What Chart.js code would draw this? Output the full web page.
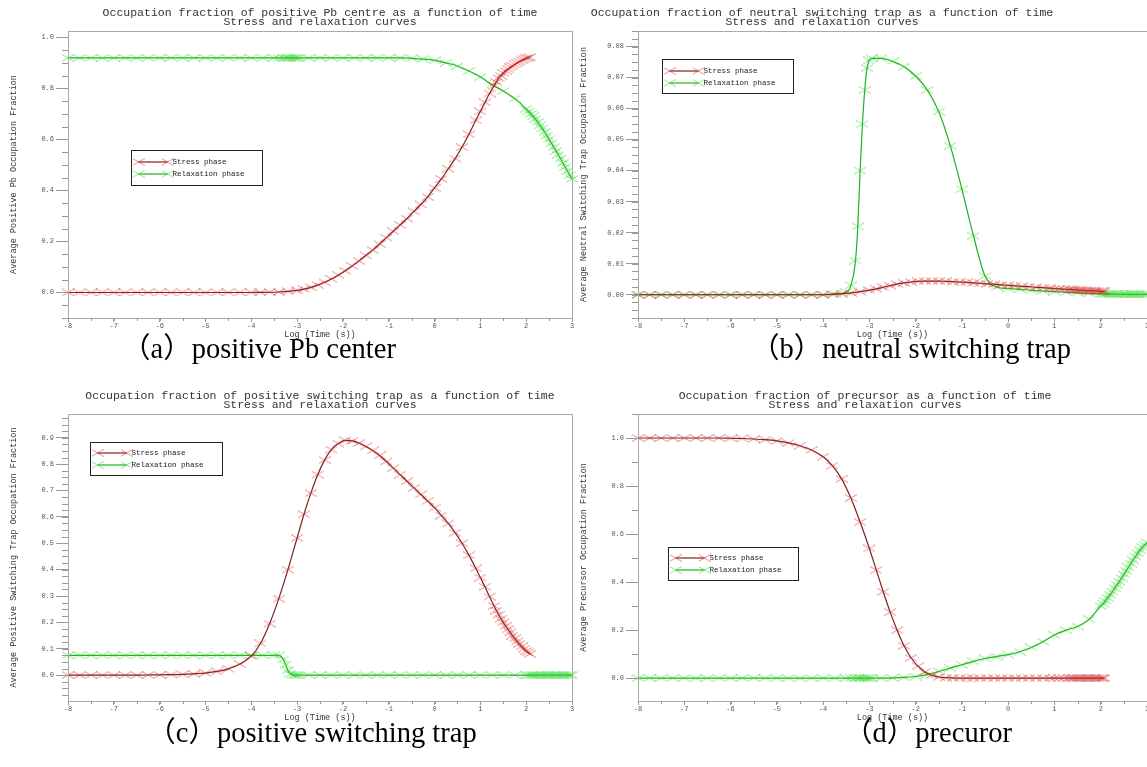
<!DOCTYPE html>
<html>
<head>
<meta charset="utf-8">
<title>Occupation fraction curves</title>
<script src="https://cdn.jsdelivr.net/npm/chart.js@4.4.0/dist/chart.umd.min.js"></script>
<style>
  html, body { margin: 0; padding: 0; background: #fff; }
  body { width: 1147px; height: 767px; position: relative; overflow: hidden; }
  canvas { position: absolute; }
  .caption { position: absolute; transform: translate(-50%, -50%); white-space: nowrap;
    font-family: "Liberation Serif", "Times New Roman", "Noto Sans CJK SC", serif; font-size: 28.5px; color: #000; }
</style>
</head>
<body>
<canvas id="chartA" width="590" height="342" style="left:0;top:0"></canvas>
<canvas id="chartB" width="600" height="342" style="left:570px;top:0"></canvas>
<canvas id="chartC" width="590" height="342" style="left:0;top:383px"></canvas>
<canvas id="chartD" width="600" height="342" style="left:570px;top:383px"></canvas>
<div class="caption" style="left:259px;top:345px">（a）positive Pb center</div>
<div class="caption" style="left:911px;top:345px">（b）neutral switching trap</div>
<div class="caption" style="left:312px;top:729px">（c）positive switching trap</div>
<div class="caption" style="left:928px;top:729px">（d）precuror</div>
<script>
// log10 time grids (s)
const stressX = [-8, -7.75, -7.5, -7.25, -7, -6.75, -6.5, -6.25, -6, -5.75, -5.5, -5.25, -5, -4.75, -4.5, -4.25, -4,
  -3.8, -3.6, -3.4, -3.2, -3.0,
  -2.85, -2.7, -2.55, -2.4, -2.25, -2.1, -1.95, -1.8, -1.65, -1.5, -1.35, -1.2, -1.05, -0.9, -0.75, -0.6, -0.45, -0.3, -0.15, 0,
  0.15, 0.3, 0.45, 0.6, 0.75, 0.9, 1.0, 1.1, 1.2, 1.3,
  1.35, 1.4, 1.45, 1.5, 1.55, 1.6, 1.65, 1.7, 1.75, 1.8, 1.85, 1.9, 1.95, 2.0, 2.04, 2.08];
const relaxX = [-8, -7.75, -7.5, -7.25, -7, -6.75, -6.5, -6.25, -6, -5.75, -5.5, -5.25, -5, -4.75, -4.5, -4.25, -4,
  -3.75, -3.5, -3.4, -3.3,
  -3.25, -3.2, -3.15, -3.1, -3.05, -3.0, -2.95,
  -2.75, -2.5, -2.25, -2, -1.75, -1.5, -1.25, -1, -0.75, -0.5, -0.25, 0, 0.25, 0.5, 0.75, 1, 1.25, 1.5, 1.75, 2,
  2.05, 2.1, 2.15, 2.2, 2.25, 2.3, 2.35, 2.4, 2.45, 2.5, 2.55, 2.6, 2.65, 2.7, 2.75, 2.8, 2.85, 2.9, 2.95, 3.0];

const seriesNames = ['Stress phase', 'Relaxation phase'];

// (a) positive Pb centre
const pbStress = [0, 0, 0, 0, 0, 0, 0, 0, 0, 0, 0, 0, 0, 0, 0, 0, 0,
  0.0005, 0.001, 0.002, 0.004, 0.008,
  0.013, 0.02, 0.029, 0.04, 0.053, 0.068, 0.085, 0.104, 0.124, 0.145, 0.166, 0.19, 0.215, 0.24, 0.265, 0.29, 0.318, 0.345, 0.375, 0.41,
  0.445, 0.485, 0.525, 0.57, 0.62, 0.675, 0.71, 0.745, 0.78, 0.81,
  0.825, 0.84, 0.85, 0.86, 0.868, 0.875, 0.882, 0.888, 0.894, 0.9, 0.905, 0.91, 0.914, 0.918, 0.92, 0.922];
const pbRelax = [0.92, 0.92, 0.92, 0.92, 0.92, 0.92, 0.92, 0.92, 0.92, 0.92, 0.92, 0.92, 0.92, 0.92, 0.92, 0.92, 0.92,
  0.92, 0.92, 0.92, 0.92,
  0.92, 0.92, 0.92, 0.92, 0.92, 0.92, 0.92,
  0.92, 0.92, 0.92, 0.92, 0.92, 0.92, 0.92, 0.92, 0.92, 0.918, 0.915, 0.91, 0.9, 0.888, 0.868, 0.845, 0.815, 0.79, 0.76, 0.72,
  0.71, 0.7, 0.69, 0.68, 0.668, 0.655, 0.643, 0.63, 0.615, 0.6, 0.585, 0.57, 0.555, 0.54, 0.525, 0.508, 0.492, 0.476, 0.46, 0.445];

// (b) neutral switching trap
const neutralStress = [0, 0, 0, 0, 0, 0, 0, 0, 0, 0, 0, 0, 0, 0, 0, 0, 0,
  0.0001, 0.0003, 0.0006, 0.001, 0.0015,
  0.0019, 0.0024, 0.0029, 0.0034, 0.0038, 0.0041, 0.0043, 0.0044, 0.0044, 0.0044, 0.0043, 0.0042, 0.0041, 0.004, 0.0038, 0.0037, 0.0035, 0.0034, 0.0032, 0.003,
  0.0029, 0.0027, 0.0026, 0.0024, 0.0023, 0.0021, 0.002, 0.0019, 0.0018, 0.0017,
  0.0017, 0.0016, 0.0016, 0.0015, 0.0015, 0.0014, 0.0014, 0.0013, 0.0013, 0.0013, 0.0012, 0.0012, 0.0012, 0.0011, 0.0011, 0.0011];
const neutralRelax = [0, 0, 0, 0, 0, 0, 0, 0, 0, 0, 0, 0, 0, 0, 0, 0, 0,
  0.0003, 0.0008, 0.003, 0.011,
  0.022, 0.04, 0.055, 0.066, 0.073, 0.0755, 0.0762,
  0.0762, 0.0752, 0.0735, 0.0705, 0.066, 0.059, 0.048, 0.034, 0.019, 0.006, 0.0025, 0.002, 0.0017, 0.0014, 0.0012, 0.001, 0.0008, 0.0006, 0.0004, 0.0003,
  0.0002, 0.0002, 0.0002, 0.0002, 0.0002, 0.0002, 0.0001, 0.0001, 0.0001, 0.0001, 0.0001, 0.0001, 0.0001, 0.0001, 0.0001, 0.0001, 0.0001, 0.0001, 0.0001, 0.0001];

// (c) positive switching trap
const positiveStress = [0, 0, 0, 0, 0, 0, 0.0003, 0.0006, 0.001, 0.002, 0.003, 0.005, 0.008, 0.014, 0.024, 0.042, 0.072,
  0.12, 0.195, 0.29, 0.4, 0.52,
  0.61, 0.69, 0.76, 0.815, 0.855, 0.878, 0.89, 0.888, 0.88, 0.867, 0.852, 0.833, 0.81, 0.785, 0.76, 0.735, 0.71, 0.685, 0.66, 0.635,
  0.605, 0.575, 0.54, 0.5, 0.455, 0.405, 0.37, 0.335, 0.298, 0.262,
  0.245, 0.229, 0.214, 0.2, 0.187, 0.174, 0.162, 0.15, 0.139, 0.128, 0.118, 0.109, 0.1, 0.092, 0.086, 0.08];
const positiveRelax = [0.075, 0.075, 0.075, 0.075, 0.075, 0.075, 0.075, 0.075, 0.075, 0.075, 0.075, 0.075, 0.075, 0.075, 0.075, 0.075, 0.075,
  0.075, 0.075, 0.075, 0.06,
  0.04, 0.018, 0.005, 0.001, 0, 0, 0,
  0, 0, 0, 0, 0, 0, 0, 0, 0, 0, 0, 0, 0, 0, 0, 0, 0, 0, 0, 0,
  0, 0, 0, 0, 0, 0, 0, 0, 0, 0, 0, 0, 0, 0, 0, 0, 0, 0, 0, 0];

// (d) precursor
const precursorStress = [1, 1, 1, 1, 1, 1, 1, 1, 0.999, 0.998, 0.996, 0.993, 0.988, 0.98, 0.968, 0.95, 0.922,
  0.885, 0.83, 0.75, 0.65, 0.54,
  0.45, 0.36, 0.275, 0.2, 0.135, 0.085, 0.05, 0.026, 0.012, 0.005, 0.002, 0.001, 0, 0, 0, 0, 0, 0, 0, 0,
  0, 0, 0, 0, 0, 0, 0, 0, 0, 0,
  0, 0, 0, 0, 0, 0, 0, 0, 0, 0, 0, 0, 0, 0, 0, 0];
const precursorRelax = [0, 0, 0, 0, 0, 0, 0, 0, 0, 0, 0, 0, 0, 0, 0, 0, 0,
  0, 0, 0, 0,
  0, 0, 0, 0, 0, 0, 0,
  0, 0.001, 0.003, 0.007, 0.015, 0.028, 0.042, 0.056, 0.07, 0.082, 0.09, 0.098, 0.11, 0.128, 0.152, 0.18, 0.2, 0.215, 0.245, 0.3,
  0.31, 0.322, 0.334, 0.347, 0.36, 0.374, 0.388, 0.402, 0.417, 0.432, 0.447, 0.462, 0.477, 0.492, 0.506, 0.52, 0.533, 0.545, 0.555, 0.565];

// wide "x" marker like the original plot
function makeMarker(color) {
  const c = document.createElement('canvas');
  c.width = 12; c.height = 8;
  const g = c.getContext('2d');
  g.strokeStyle = color; g.lineWidth = 1;
  g.beginPath();
  g.moveTo(0, 0.5); g.lineTo(12, 7.5);
  g.moveTo(0, 7.5); g.lineTo(12, 0.5);
  g.stroke();
  return c;
}
const stressMark = makeMarker('rgba(215,45,45,0.55)');
const relaxMark = makeMarker('rgba(40,215,40,0.55)');

function series(label, xs, ys, line, mark) {
  return {
    label: label,
    data: xs.map((x, i) => ({ x: x, y: ys[i] })),
    borderColor: line, borderWidth: 1.2, fill: false,
    pointStyle: mark, pointRadius: 6, pointHoverRadius: 6,
    cubicInterpolationMode: 'monotone', clip: 8
  };
}

// frame, minor ticks, two-line title and boxed legend
const panelDecor = {
  id: 'panelDecor',
  afterDraw(chart, args, opts) {
    const ctx = chart.ctx, a = chart.chartArea;
    const xs = chart.scales.x, ys = chart.scales.y;
    ctx.save();
    ctx.strokeStyle = '#aaa'; ctx.lineWidth = 1;
    ctx.strokeRect(Math.round(a.left) + 0.5, Math.round(a.top) + 0.5, Math.round(a.right - a.left), Math.round(a.bottom - a.top));

    ctx.strokeStyle = '#999';
    ctx.beginPath();
    for (let n = Math.ceil(xs.min / opts.xMinor); n * opts.xMinor <= xs.max + 1e-9; n++) {
      const px = Math.round(xs.getPixelForValue(n * opts.xMinor)) + 0.5;
      ctx.moveTo(px, a.bottom); ctx.lineTo(px, a.bottom + 3);
    }
    for (let n = Math.ceil(ys.min / opts.yMinor); n * opts.yMinor <= ys.max + 1e-9; n++) {
      const py = Math.round(ys.getPixelForValue(n * opts.yMinor)) + 0.5;
      ctx.moveTo(a.left - 6, py); ctx.lineTo(a.left, py);
    }
    ctx.stroke();

    ctx.fillStyle = '#333';
    ctx.font = '10px "Liberation Mono", monospace';
    ctx.textAlign = 'center'; ctx.textBaseline = 'middle';
    opts.title.forEach((t, i) => {
      ctx.save();
      ctx.translate(opts.cx, 13 + i * 9.5);
      ctx.scale(1.15, 1);
      ctx.fillText(t, 0, 0);
      ctx.restore();
    });

    const lg = opts.legend;
    const bx = Math.round(a.left + lg.dx) + 0.5, by = Math.round(a.top + lg.dy) + 0.5;
    ctx.fillStyle = '#fff'; ctx.fillRect(bx, by, lg.w, lg.h);
    ctx.strokeStyle = '#222'; ctx.strokeRect(bx, by, lg.w, lg.h);
    ctx.font = '7.5px "Liberation Mono", monospace';
    ctx.textAlign = 'left';
    chart.data.datasets.forEach((ds, i) => {
      const y = Math.round(by + lg.h / 2 - 6 + i * 12);
      ctx.strokeStyle = ds.borderColor; ctx.lineWidth = 1.2;
      ctx.beginPath(); ctx.moveTo(bx + 7, y); ctx.lineTo(bx + 36, y); ctx.stroke();
      ctx.drawImage(ds.pointStyle, bx + 1, y - 4);
      ctx.drawImage(ds.pointStyle, bx + 30, y - 4);
      ctx.fillStyle = '#222';
      ctx.fillText(ds.label, bx + 41, y);
    });
    ctx.restore();
  }
};

const tickFont = { family: 'Liberation Mono', size: 7 };
const axisFont = { family: 'Liberation Mono', size: 8.5 };

function makeChart(id, p) {
  return new Chart(document.getElementById(id), {
    type: 'line',
    data: {
      datasets: [
        series(seriesNames[0], stressX, p.stress, '#7a2222', stressMark),
        series(seriesNames[1], relaxX, p.relax, '#22b022', relaxMark)
      ]
    },
    plugins: [panelDecor],
    options: {
      responsive: false, animation: false, events: [],
      layout: { padding: { top: 31, left: 0, right: p.padRight, bottom: 0 } },
      plugins: {
        legend: { display: false },
        tooltip: { enabled: false },
        panelDecor: { title: p.title, cx: p.cx, legend: p.legend, xMinor: 0.5, yMinor: p.yMinor }
      },
      scales: {
        x: {
          type: 'linear', min: -8, max: 3,
          afterFit: function(s) { s.height = 24; },
          ticks: { stepSize: 1, autoSkip: false, maxRotation: 0, font: tickFont, color: '#555', padding: 0 },
          grid: { drawOnChartArea: false, tickLength: 4, color: '#999' },
          border: { color: '#999' },
          title: { display: true, text: 'Log (Time (s))', font: axisFont, color: '#333', padding: { top: 0, bottom: 2 } }
        },
        y: {
          type: 'linear', min: p.yMin, max: p.yMax,
          afterFit: function(s) { s.width = 68; },
          ticks: { stepSize: p.yStep, includeBounds: false, font: tickFont, color: '#555', padding: 2,
                   callback: function(v) { return v.toFixed(p.dec); } },
          grid: { drawOnChartArea: false, tickLength: 12, color: '#999' },
          border: { color: '#999' },
          title: { display: true, text: p.yTitle, font: axisFont, color: '#333', padding: { top: 9, bottom: 0 } }
        }
      }
    }
  });
}

document.addEventListener("DOMContentLoaded", function() {
  makeChart('chartA', {
    stress: pbStress, relax: pbRelax, padRight: 18,
    yMin: -0.1, yMax: 1.025, yStep: 0.2, yMinor: 0.05, dec: 1,
    yTitle: 'Average Positive Pb Occupation Fraction',
    title: ['Occupation fraction of positive Pb centre as a function of time', 'Stress and relaxation curves'],
    cx: 320, legend: { dx: 63, dy: 119, w: 131, h: 35 }
  });
  makeChart('chartB', {
    stress: neutralStress, relax: neutralRelax, padRight: 23,
    yMin: -0.0075, yMax: 0.085, yStep: 0.01, yMinor: 0.0025, dec: 2,
    yTitle: 'Average Neutral Switching Trap Occupation Fraction',
    title: ['Occupation fraction of neutral switching trap as a function of time', 'Stress and relaxation curves'],
    cx: 252, legend: { dx: 24, dy: 28, w: 131, h: 34 }
  });
  makeChart('chartC', {
    stress: positiveStress, relax: positiveRelax, padRight: 18,
    yMin: -0.098, yMax: 0.99, yStep: 0.1, yMinor: 0.025, dec: 1,
    yTitle: 'Average Positive Switching Trap Occupation Fraction',
    title: ['Occupation fraction of positive switching trap as a function of time', 'Stress and relaxation curves'],
    cx: 320, legend: { dx: 22, dy: 28, w: 132, h: 33 }
  });
  makeChart('chartD', {
    stress: precursorStress, relax: precursorRelax, padRight: 23,
    yMin: -0.095, yMax: 1.1, yStep: 0.2, yMinor: 0.1, dec: 1,
    yTitle: 'Average Precursor Occupation Fraction',
    title: ['Occupation fraction of precursor as a function of time', 'Stress and relaxation curves'],
    cx: 295, legend: { dx: 30, dy: 133, w: 130, h: 33 }
  });
});
</script>
</body>
</html>
